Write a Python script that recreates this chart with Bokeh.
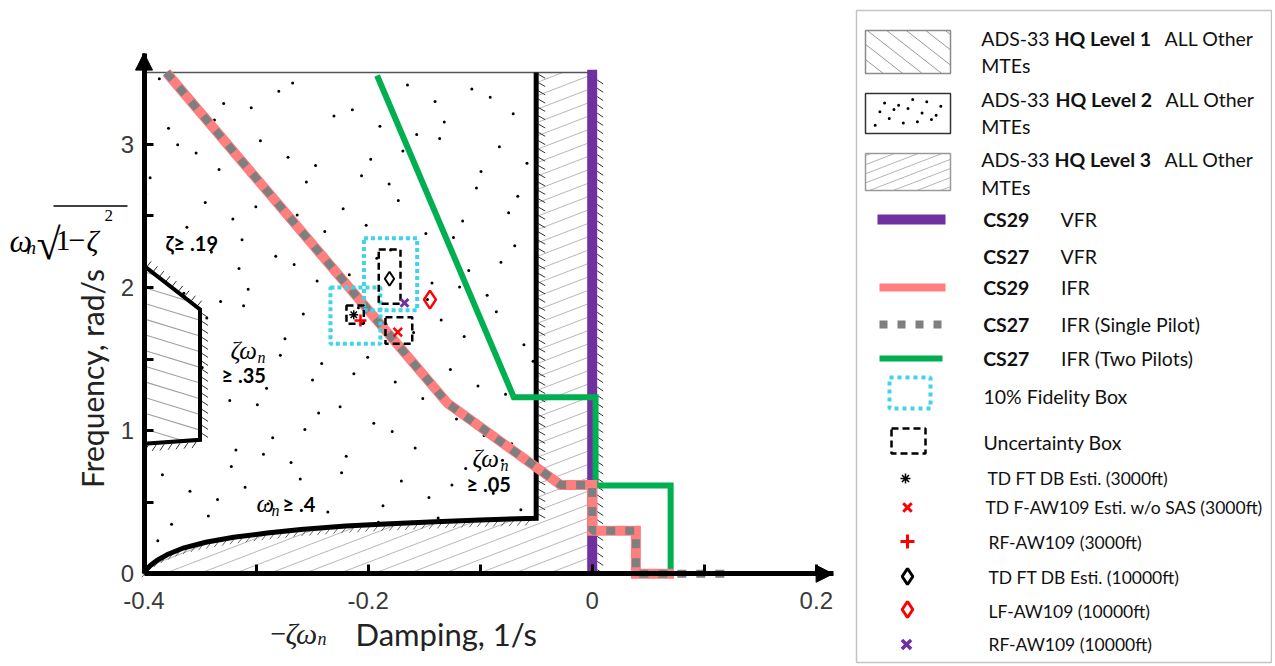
import numpy as np
from bokeh.plotting import figure
from bokeh.models import Range1d, FixedTicker, Label, Arrow, NormalHead
from bokeh.embed import file_html
from bokeh.resources import INLINE
from bokeh.core.properties import value

# ---------------- data ----------------
x_ticks = [-0.4, -0.2, 0.0, 0.2]
x_tick_labels = ["-0.4", "-0.2", "0", "0.2"]
x_minor_ticks = [-0.3, -0.1, 0.1]
y_ticks = [0, 1, 2, 3]
y_tick_labels = ["0", "1", "2", "3"]
y_minor_ticks = [0.5, 1.5, 2.5]
x_axis_end = 0.215
y_axis_end = 3.636

top_freq = 3.5                 # upper limit of the ADS-33 chart
zeta_wn_005 = -0.05            # zeta*wn >= .05 boundary (Level 2/3)
# wn >= .4 boundary (Level 2/3)
wn_curve_x = [-0.400, -0.398, -0.394, -0.388, -0.379, -0.365, -0.345, -0.320,
              -0.290, -0.260, -0.220, -0.180, -0.140, -0.100, -0.050]
wn_curve_y = [0.000, 0.030, 0.060, 0.095, 0.135, 0.180, 0.220, 0.255,
              0.285, 0.310, 0.333, 0.350, 0.364, 0.376, 0.388]
# Level 1 region (zeta >= .19, zeta*wn >= .35)
lvl1_x = [-0.40, -0.35, -0.35, -0.40]
lvl1_y = [2.15, 1.846, 0.936, 0.908]

cs29_vfr_x = [0.0, 0.0]
cs29_vfr_y = [0.0, 3.52]
cs29_ifr_x = [-0.380, -0.129, -0.028, 0.000, 0.000, 0.039, 0.039, 0.073]
cs29_ifr_y = [3.50, 1.19, 0.62, 0.62, 0.30, 0.30, 0.00, 0.00]
cs27_ifr1_x = [-0.380, -0.129, -0.028, 0.000, 0.000, 0.039, 0.039, 0.118]
cs27_ifr1_y = [3.50, 1.19, 0.62, 0.62, 0.30, 0.30, 0.00, 0.00]
cs27_ifr2_x = [-0.192, -0.070, 0.003, 0.003, 0.070, 0.070]
cs27_ifr2_y = [3.48, 1.233, 1.233, 0.616, 0.616, 0.00]

fid_left = [-0.2336, -0.2037]
fid_right = [-0.1890, -0.1562]
fid_bottom = [1.606, 1.840]
fid_top = [2.000, 2.344]

unc_left = [-0.2193, -0.1845, -0.1905]
unc_right = [-0.2038, -0.1606, -0.1711]
unc_bottom = [1.746, 1.606, 1.885]
unc_top = [1.874, 1.792, 2.265]

td_db_3000 = ([-0.2128], [1.809])
td_faw_3000 = ([-0.1735], [1.687])
rf_aw_3000 = ([-0.2068], [1.769])
td_db_10000 = ([-0.1809], [2.060])
lf_aw_10000 = ([-0.1448], [1.915])
rf_aw_10000 = ([-0.1675], [1.892])

# ---------------- colours / styles ----------------
PURPLE = "#7030A0"
PINK = "#FF7F7F"
GREY = "#7F7F7F"
GREEN = "#00B050"
CYAN = "#40D4E8"
RED = "#FF0000"
SANS = "Lato"
SERIF = "Liberation Serif"

# ---------------- page layout (pixels) ----------------
WT, HT = 1272, 664
PX0, KX = 591.7, 1120.5     # page x of damping 0, px per 1/s
PY0, KY = 573.3, 143.2      # page y of frequency 0, px per rad/s


def to_px(x, y):  # data -> pixel coords with y pointing up
    return PX0 + np.asarray(x, float) * KX, -(PY0 - np.asarray(y, float) * KY)


def to_data(px, py):
    return (np.asarray(px) - PX0) / KX, (PY0 + np.asarray(py)) / KY


def hatch(px, py, angle_deg, spacing):
    a = np.deg2rad(angle_deg)
    d = np.array([np.cos(a), np.sin(a)])
    n = np.array([-np.sin(a), np.cos(a)])
    P = np.column_stack([px, py])
    Q = np.roll(P, -1, axis=0)
    sp, sq = P @ n, Q @ n
    cmin, cmax = min(sp.min(), sq.min()), max(sp.max(), sq.max())
    out = [[], [], [], []]
    c = np.floor(cmin / spacing) * spacing + spacing * 0.5
    while c <= cmax:
        ts = []
        for i in range(len(P)):
            a1, a2 = sp[i] - c, sq[i] - c
            if (a1 > 0) != (a2 > 0):
                t = a1 / (a1 - a2)
                pt = P[i] + t * (Q[i] - P[i])
                ts.append(pt @ d)
        ts.sort()
        for k in range(0, len(ts) - 1, 2):
            p1 = ts[k] * d + c * n
            p2 = ts[k + 1] * d + c * n
            out[0].append(p1[0]); out[1].append(p1[1])
            out[2].append(p2[0]); out[3].append(p2[1])
        c += spacing
    return [np.array(v) for v in out]


def edge_ticks(px, py, step, vec, shift=(0, 0)):
    px = np.asarray(px, float) + shift[0]
    py = np.asarray(py, float) + shift[1]
    seg = np.hypot(np.diff(px), np.diff(py))
    cum = np.concatenate([[0], np.cumsum(seg)])
    s = np.arange(step / 2, cum[-1], step)
    tx, ty = np.interp(s, cum, px), np.interp(s, cum, py)
    return tx, ty, tx + vec[0], ty + vec[1]


def halton(n, base):
    res = np.zeros(n)
    for i in range(n):
        f, r, k = 1.0, 0.0, i + 1
        while k > 0:
            f /= base
            r += f * (k % base)
            k //= base
        res[i] = r
    return res


def inside(px, py, poly_x, poly_y):
    px, py = np.asarray(px), np.asarray(py)
    res = np.zeros(len(px), bool)
    nn = len(poly_x)
    j = nn - 1
    for i in range(nn):
        xi, yi, xj, yj = poly_x[i], poly_y[i], poly_x[j], poly_y[j]
        cond = ((yi > py) != (yj > py)) & (px < (xj - xi) * (py - yi) / (yj - yi + 1e-12) + xi)
        res ^= cond
        j = i
    return res


p = figure(width=WT, height=HT,
           x_range=Range1d((0 - PX0) / KX, (WT - PX0) / KX),
           y_range=Range1d((PY0 - HT) / KY, PY0 / KY),
           output_backend="svg", toolbar_location=None, min_border=0)
p.extra_x_ranges = {"px": Range1d(0, WT)}
p.extra_y_ranges = {"px": Range1d(HT, 0)}
PXR = dict(x_range_name="px", y_range_name="px")
p.grid.visible = False
p.outline_line_color = None
p.background_fill_color = "white"

for ax, ticks, minor, labels, loc, bnd in (
        (p.xaxis[0], x_ticks, x_minor_ticks, x_tick_labels, 0.0, (x_ticks[0], x_axis_end)),
        (p.yaxis[0], y_ticks, y_minor_ticks, y_tick_labels, x_ticks[0], (y_ticks[0], y_axis_end))):
    ax.fixed_location = loc
    ax.bounds = bnd
    ax.ticker = FixedTicker(ticks=ticks, minor_ticks=minor)
    ax.major_label_overrides = {t: l for t, l in zip(ticks, labels)}
    ax.axis_line_width = 5
    ax.axis_line_color = "black"
    ax.major_tick_in = 9
    ax.major_tick_out = 0
    ax.minor_tick_in = 9
    ax.minor_tick_out = 0
    ax.major_tick_line_width = 3
    ax.minor_tick_line_width = 3
    ax.major_label_text_font = "Liberation Sans"
    ax.major_label_text_font_size = "24px"
    ax.major_label_text_color = "#3a3a3a"
p.xaxis[0].major_label_standoff = 18
p.yaxis[0].major_label_standoff = 10

# ---- Level 3 region (light "/" hatch) ----
l3x = [x_ticks[0], 0.0, 0.0, zeta_wn_005, zeta_wn_005] + wn_curve_x[::-1][1:]
l3y = [0.0, 0.0, top_freq, top_freq, wn_curve_y[-1]] + wn_curve_y[::-1][1:]
ppx, ppy = to_px(l3x, l3y)
hx0, hy0, hx1, hy1 = hatch(ppx, ppy, 21, 12.5)
a0, b0 = to_data(hx0, hy0); a1, b1 = to_data(hx1, hy1)
p.segment(a0, b0, a1, b1, line_color="#b8b8b8", line_width=1)

# ---- Level 1 region ("\" hatch) ----
ppx, ppy = to_px(lvl1_x, lvl1_y)
hx0, hy0, hx1, hy1 = hatch(ppx, ppy, -17, 15)
a0, b0 = to_data(hx0, hy0); a1, b1 = to_data(hx1, hy1)
p.segment(a0, b0, a1, b1, line_color="#a0a0a0", line_width=1.1)

# ---- Level 2 region (dots) ----
l2x = [x_ticks[0], zeta_wn_005, zeta_wn_005] + wn_curve_x[::-1] + lvl1_x[::-1]
l2y = [top_freq, top_freq, wn_curve_y[-1]] + wn_curve_y[::-1] + lvl1_y[::-1]
qx, qy = to_px(l2x, l2y)
bx0, bx1, by0, by1 = qx.min(), qx.max(), qy.min(), qy.max()
ndots = int((bx1 - bx0) * (by1 - by0) / 1250)
dx = bx0 + halton(ndots, 2) * (bx1 - bx0)
dy = by0 + halton(ndots, 3) * (by1 - by0)
m = inside(dx, dy, qx, qy)
ddx, ddy = to_data(dx[m], dy[m])
p.scatter(ddx, ddy, marker="circle", size=3, fill_color="black", line_color=None)

# top line of chart
p.line([x_ticks[0], 0.0], [top_freq, top_freq], line_color="#555555", line_width=1.5)


# ---- boundary ticks ----
def draw_ticks(xs, ys, step, vec, shift=(0, 0), color="#333333"):
    px_, py_ = to_px(xs, ys)
    t0x, t0y, t1x, t1y = edge_ticks(px_, py_, step, vec, shift)
    u0, v0 = to_data(t0x, t0y); u1, v1 = to_data(t1x, t1y)
    p.segment(u0, v0, u1, v1, line_color=color, line_width=1)


draw_ticks([zeta_wn_005, zeta_wn_005], [wn_curve_y[-1], top_freq], 8.3, (7, -4), (2, 0))
draw_ticks([0.0, 0.0], [0.0, top_freq], 8.3, (6, -4), (5, 0))
draw_ticks(wn_curve_x, wn_curve_y, 8.0, (-4, -5), (0, -2), color="#666666")
draw_ticks(lvl1_x[:2], lvl1_y[:2], 8.0, (4, 5), (0, 2))
draw_ticks(lvl1_x[1:3], lvl1_y[1:3], 8.0, (6, -4), (2, 0))
draw_ticks(lvl1_x[2:4], lvl1_y[2:4], 8.0, (-4, -6), (0, -2))

# ---- level boundaries ----
p.line(wn_curve_x + [zeta_wn_005], wn_curve_y + [top_freq], line_color="black", line_width=5,
       line_join="miter")
p.line(lvl1_x, lvl1_y, line_color="black", line_width=4, line_join="miter")

# axis arrow heads
p.add_layout(Arrow(end=NormalHead(size=17, fill_color="black", line_color="black"),
                   x_start=x_axis_end - 0.03, y_start=0, x_end=x_axis_end, y_end=0, line_alpha=0))
p.add_layout(Arrow(end=NormalHead(size=17, fill_color="black", line_color="black"),
                   x_start=x_ticks[0], y_start=y_axis_end - 0.2, x_end=x_ticks[0], y_end=y_axis_end,
                   line_alpha=0))

# ---- certification limits ----
p.line(cs29_vfr_x, cs29_vfr_y, line_color=PURPLE, line_width=10)
p.line(cs27_ifr2_x, cs27_ifr2_y, line_color=GREEN, line_width=6, line_join="miter")
p.line(cs29_ifr_x, cs29_ifr_y, line_color=PINK, line_width=10, line_join="miter")
p.line(cs27_ifr1_x, cs27_ifr1_y, line_color=GREY, line_width=8, line_dash="9 10")

# ---- boxes ----
p.quad(left=fid_left, right=fid_right, bottom=fid_bottom, top=fid_top, fill_color=None,
       line_color=CYAN, line_width=4, line_dash="4 3")
p.quad(left=unc_left, right=unc_right, bottom=unc_bottom, top=unc_top, fill_color=None,
       line_color="black", line_width=2.5, line_dash="7 4")

# ---- estimates ----
p.scatter(*td_db_3000, marker="asterisk", size=9, line_color="black", line_width=1.5)
p.scatter(*td_faw_3000, marker="x", size=12, line_color=RED, line_width=2.5)
p.scatter(*rf_aw_3000, marker="cross", size=12, line_color=RED, line_width=2.5)
p.scatter(*td_db_10000, marker="diamond", size=14, line_color="black", line_width=2, fill_color=None)
p.scatter(*lf_aw_10000, marker="diamond", size=18, line_color=RED, line_width=2.5, fill_color=None)
p.scatter(*rf_aw_10000, marker="x", size=11, line_color=PURPLE, line_width=3)


# ---- labels (page pixel coordinates) ----
def lab(text, px_, py_, font=SANS, size=20, style="normal", baseline="middle", align="left",
        angle=0.0, color="black"):
    p.add_layout(Label(x=px_, y=py_, text=text, text_font=font, text_font_size=f"{size}px",
                       text_font_style=style, text_baseline=baseline, text_align=align,
                       angle=angle, text_color=color, **PXR))


lab("ζ≥ .19", 165, 242, size=20, style="bold")
lab("ζω", 230, 350, font=SERIF, size=25, style="italic")
lab("n", 257, 357, font=SERIF, size=16, style="italic")
lab("≥ .35", 221, 374, size=20, style="bold")
lab("ω", 256, 503, font=SERIF, size=25, style="italic")
lab("n", 271, 510, font=SERIF, size=16, style="italic")
lab("≥ .4", 282, 503, size=20, style="bold")
lab("ζω", 472, 458, font=SERIF, size=25, style="italic")
lab("n", 500, 465, font=SERIF, size=16, style="italic")
lab("≥ .05", 466, 483, size=20, style="bold")

# axis titles
lab("Frequency, rad/s", 91, 378, size=30, baseline="alphabetic", align="center", angle=np.pi / 2,
    color="#222222")
lab("−", 270, 633, font=SERIF, size=28, baseline="alphabetic", color="#222222")
lab("ζω", 285, 633, font=SERIF, size=30, style="italic", baseline="alphabetic", color="#222222")
lab("n", 317, 638, font=SERIF, size=18, style="italic", baseline="alphabetic", color="#222222")
lab("Damping, 1/s", 355, 633, size=31, baseline="alphabetic", color="#222222")

# omega_n sqrt(1 - zeta^2)
lab("ω", 9, 240, font=SERIF, size=32, style="italic", baseline="alphabetic")
lab("n", 26, 247, font=SERIF, size=19, style="italic", baseline="alphabetic")
lab("√", 36, 244, font=SERIF, size=44, baseline="alphabetic")
lab("1", 55, 240, font=SERIF, size=30, baseline="alphabetic")
lab("−", 68, 240, font=SERIF, size=30, baseline="alphabetic")
lab("ζ", 86, 240, font=SERIF, size=30, style="italic", baseline="alphabetic")
lab("2", 104, 215, font=SERIF, size=17, baseline="alphabetic")
p.line([53, 127], [205.5, 205.5], line_color="black", line_width=1.6, **PXR)

# ---------------- legend (page pixel coordinates) ----------------
p.quad(left=[856], right=[1271], top=[10], bottom=[662], fill_color="white", line_color="#c4c4c4",
       line_width=1.5, **PXR)


def lg_hatch(l, r, t, b, ang, sp, color):
    hx0, hy0, hx1, hy1 = hatch(np.array([l, r, r, l]), -np.array([t, t, b, b]), ang, sp)
    p.segment(hx0, -hy0, hx1, -hy1, line_color=color, line_width=1, **PXR)


lg_hatch(865, 950, 30, 73, -38, 12, "#9a9a9a")
lg_hatch(865, 950, 153, 190, 21, 8.5, "#b5b5b5")
nd = 15
sx = 870 + halton(nd, 2) * 75
sy = 98 + halton(nd, 3) * 30
p.scatter(sx, sy, marker="circle", size=3, fill_color="black", line_color=None, **PXR)
p.quad(left=[865, 865, 865], right=[950, 950, 950], top=[30, 93, 153], bottom=[73, 133, 190],
       fill_color=None, line_color=["#8a8a8a", "#333333", "#9a9a9a"], line_width=1.5, **PXR)

p.line([877, 945], [219, 219], line_color=PURPLE, line_width=10, **PXR)
p.line([879, 945], [287, 287], line_color=PINK, line_width=8, **PXR)
p.line([879, 942], [324, 324], line_color=GREY, line_width=8, line_dash="8 10", **PXR)
p.line([879, 942], [358, 358], line_color=GREEN, line_width=6, **PXR)
p.quad(left=[889], right=[930], top=[377], bottom=[408], fill_color=None, line_color=CYAN,
       line_width=4, line_dash="4 4", **PXR)
p.quad(left=[891], right=[925], top=[428], bottom=[453], fill_color=None, line_color="black",
       line_width=2.5, line_dash="7 4", **PXR)
p.scatter([905], [478], marker="asterisk", size=10, line_color="black", line_width=1.5, **PXR)
p.scatter([907], [507], marker="x", size=12, line_color=RED, line_width=3, **PXR)
p.scatter([907], [541], marker="cross", size=14, line_color=RED, line_width=3, **PXR)
p.scatter([907], [576], marker="diamond", size=16, line_color="black", line_width=3,
          fill_color=None, **PXR)
p.scatter([907], [609], marker="diamond", size=16, line_color=RED, line_width=3,
          fill_color=None, **PXR)
p.scatter([906], [644], marker="x", size=13, line_color=PURPLE, line_width=3.5, **PXR)

normal_txt = [
    (980.7, 38, "ADS-33"), (1164, 38, "ALL Other"), (980.7, 65, "MTEs"),
    (980.7, 99, "ADS-33"), (1165, 99, "ALL Other"), (980.7, 126, "MTEs"),
    (980.7, 159, "ADS-33"), (1164, 159, "ALL Other"), (980.7, 187, "MTEs"),
    (1060, 219, "VFR"), (1060, 256, "VFR"), (1060.5, 287, "IFR"),
    (1060.5, 324, "IFR (Single Pilot)"), (1060.5, 358, "IFR (Two Pilots)"),
    (983, 396, "10% Fidelity Box"), (983, 442, "Uncertainty Box"),
]
bold_txt = [
    (1054, 38, "HQ Level 1"), (1055, 99, "HQ Level 2"), (1054, 159, "HQ Level 3"),
    (982.7, 219, "CS29"), (982.7, 256, "CS27"), (982.7, 287, "CS29"), (982.7, 324, "CS27"),
    (982.7, 358, "CS27"),
]
small_txt = [
    (987, 478, "TD FT DB Esti. (3000ft)"), (985, 507, "TD F-AW109 Esti. w/o SAS (3000ft)"),
    (988, 542, "RF-AW109 (3000ft)"), (988, 577, "TD FT DB Esti. (10000ft)"),
    (988, 611, "LF-AW109 (10000ft)"), (988, 644, "RF-AW109 (10000ft)"),
]
for items, size, style in ((normal_txt, "19.5px", "normal"), (bold_txt, "19.5px", "bold"),
                           (small_txt, "17.5px", "normal")):
    p.text(x=[t[0] for t in items], y=[t[1] for t in items], text=[t[2] for t in items],
           text_font=value(SANS), text_font_size=value(size), text_font_style=value(style),
           text_baseline=value("middle"), text_align=value("left"), text_color="#111111", **PXR)

open("out.html", "w").write(file_html(p, INLINE))
